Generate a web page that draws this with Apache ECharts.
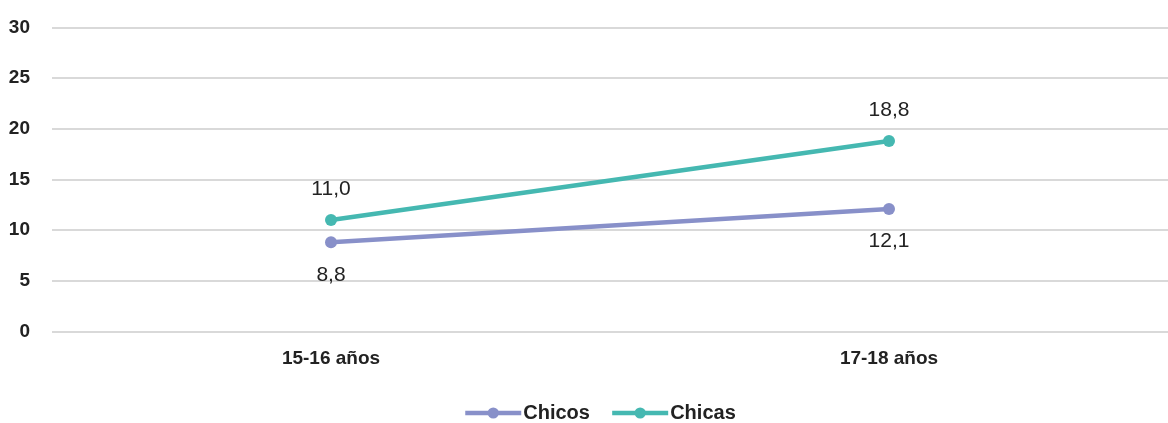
<!DOCTYPE html>
<html>
<head>
<meta charset="utf-8">
<script src="https://cdn.jsdelivr.net/npm/echarts@6/dist/echarts.min.js"></script>
<style>html,body{margin:0;padding:0;background:#fff;}#c{width:1168px;height:423px;}</style>
</head>
<body>
<div id="c"></div>
<script>
const categories = ['15-16 años', '17-18 años'];
const chicos = [8.8, 12.1];
const chicas = [11.0, 18.8];
const yTicks = [0, 5, 10, 15, 20, 25, 30];

const fontNarrow = '"Liberation Sans Narrow", "Arial Narrow", "Liberation Sans", sans-serif';
const fmt = p => p.value.toFixed(1).replace('.', ',');

const chart = echarts.init(document.getElementById('c'), null, {renderer: 'canvas'});
chart.setOption({
  animation: false,
  grid: {left: 52, right: 0, top: 27.5, bottom: 91.5, containLabel: false},
  legend: {
    left: 458, top: 398,
    itemWidth: 56, itemHeight: 14, itemGap: 20,
    lineStyle: {width: 4.5},
    textStyle: {fontFamily: fontNarrow, fontWeight: 'bold', fontSize: 20, color: '#222', padding: [0, 0, 0, -3]},
    data: ['Chicos', 'Chicas']
  },
  xAxis: {
    type: 'category', data: categories, boundaryGap: true,
    axisLine: {show: false}, axisTick: {show: false},
    axisLabel: {fontFamily: fontNarrow, fontWeight: 'bold', fontSize: 19, color: '#222', margin: 18}
  },
  yAxis: {
    type: 'value', min: yTicks[0], max: yTicks[yTicks.length - 1], interval: 5,
    axisLine: {show: false}, axisTick: {show: false},
    axisLabel: {fontFamily: fontNarrow, fontWeight: 'bold', fontSize: 19, color: '#222', margin: 22},
    splitLine: {lineStyle: {color: '#d9d9d9', width: 2}}
  },
  series: [
    {
      name: 'Chicos', type: 'line', data: chicos,
      symbol: 'circle', symbolSize: 12,
      lineStyle: {color: '#8890c9', width: 4.5},
      itemStyle: {color: '#8890c9'},
      label: {show: true, position: 'bottom', distance: 16, formatter: fmt,
        fontFamily: fontNarrow, fontSize: 21, color: '#222'}
    },
    {
      name: 'Chicas', type: 'line', data: chicas,
      symbol: 'circle', symbolSize: 12,
      lineStyle: {color: '#45b8b1', width: 4.5},
      itemStyle: {color: '#45b8b1'},
      label: {show: true, position: 'top', distance: 14, formatter: fmt,
        fontFamily: fontNarrow, fontSize: 21, color: '#222'}
    }
  ]
});
</script>
</body>
</html>
